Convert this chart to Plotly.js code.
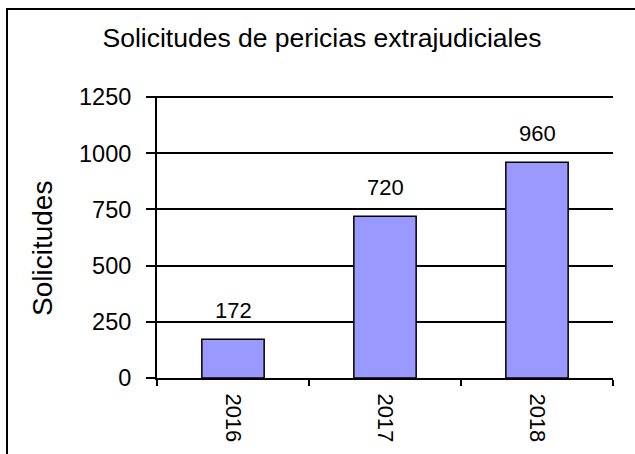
<!DOCTYPE html>
<html>
<head>
<meta charset="utf-8">
<script src="https://cdn.plot.ly/plotly-3.0.1.min.js"></script>
<style>
html,body{margin:0;padding:0;background:#fff;overflow:hidden;}
#chart{width:635px;height:454px;}
</style>
</head>
<body>
<div id="chart"></div>
<script>
const years = ['2016', '2017', '2018'];
const solicitudes = [172, 720, 960];
const yTicks = [0, 250, 500, 750, 1000, 1250];

const FONT = 'Liberation Sans, Arial, Helvetica, sans-serif';

const trace = {
  type: 'bar',
  x: years,
  y: solicitudes,
  width: 0.41,
  marker: {color: '#9999FF', line: {color: '#000000', width: 1.5}},
  hoverinfo: 'none'
};

const l = 157, r = 22, t = 96, b = 76;
const W = 635 - l - r, H = 454 - t - b;

const annotations = years.map((yr, i) => ({
  x: i, y: solicitudes[i], xref: 'x', yref: 'y',
  text: String(solicitudes[i]), showarrow: false,
  yanchor: 'middle', yshift: 29,
  font: {family: FONT, size: 22, color: '#000'}
}));
annotations.push({
  xref: 'paper', yref: 'paper', x: (42 - l) / W, y: (454 - b - 249) / H,
  xanchor: 'center', yanchor: 'middle', textangle: -90, showarrow: false,
  text: 'Solicitudes', font: {family: FONT, size: 28, color: '#000'}
});

const layout = {
  width: 635, height: 454,
  margin: {l: l, r: r, t: t, b: b, pad: 0},
  paper_bgcolor: '#fff', plot_bgcolor: '#fff',
  font: {family: FONT, size: 22, color: '#000'},
  title: {text: 'Solicitudes de pericias extrajudiciales', x: 322 / 635, xanchor: 'center', y: 1 - 38 / 454, yanchor: 'middle', xref: 'container', yref: 'container',
          font: {family: FONT, size: 26.5, color: '#000'}},
  showlegend: false,
  xaxis: {
    type: 'category', range: [-0.5, 2.5], tickson: 'boundaries', ticks: 'outside', ticklen: 6, tickwidth: 2, tickcolor: '#000',
    showline: true, linecolor: '#000', linewidth: 2, showgrid: false, tickangle: 90, ticklabelstandoff: 9,
    tickfont: {family: FONT, size: 22, color: '#000'}, zeroline: false, fixedrange: true
  },
  yaxis: {
    range: [0, 1255], tickvals: yTicks, ticktext: yTicks.map(String),
    ticks: 'outside', ticklen: 9, tickwidth: 2, tickcolor: '#000',
    showline: true, linecolor: '#000', linewidth: 2, ticklabelstandoff: 10,
    showgrid: true, gridcolor: '#000', gridwidth: 2, zeroline: false,
    tickfont: {family: FONT, size: 23.5, color: '#000'},
    fixedrange: true
  },
  annotations: annotations,
  shapes: [{
    type: 'rect', xref: 'paper', yref: 'paper', layer: 'above',
    x0: (7 - l) / W, x1: (660 - l) / W,
    y0: -(480 - (454 - b)) / H, y1: 1 + (t - 9) / H,
    line: {color: '#000', width: 2}, fillcolor: 'rgba(0,0,0,0)'
  }]
};

Plotly.newPlot('chart', [trace], layout, {staticPlot: true, displayModeBar: false});
</script>
</body>
</html>
